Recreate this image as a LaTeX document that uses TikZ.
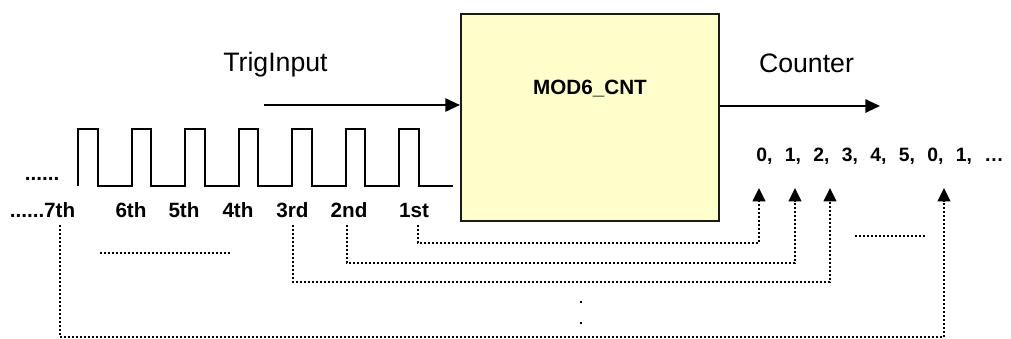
\documentclass[tikz,border=0pt]{standalone}
\usepackage{fontspec}
\setmainfont{Liberation Sans}
\usetikzlibrary{arrows.meta, positioning, calc}
\definecolor{boxfill}{HTML}{FFFFCC}
\definecolor{edge}{HTML}{1A1A1A}
\newcommand{\nth}[1]{\fontsize{15.5}{18}\selectfont\bfseries #1}
\newcommand{\gap}{\hspace{9.3pt}}

\begin{document}
\begin{tikzpicture}[
  x=0.75pt, y=-0.75pt,
  box/.style={draw=edge, line width=1.6pt, fill=boxfill,
              minimum width=193.5pt, minimum height=155pt, inner sep=0pt},
  arr/.style={-{Triangle[length=11pt, width=10pt]}, line width=1.5pt},
  dotarr/.style={-{Triangle[length=10pt, width=9.5pt]}, line width=1.5pt,
                 dash pattern=on 1.5pt off 1.5pt},
  dotline/.style={line width=1.5pt, dash pattern=on 1.5pt off 1.5pt},
  wave/.style={line width=1.5pt, line join=miter},
  lbl/.style={font=\fontsize{20}{24}\selectfont, inner sep=0pt, anchor=base},
  bl/.style={font=\nth{}, inner sep=0pt, anchor=base}
]
  \useasboundingbox (0,0) rectangle (1011,339);

  % counter block
  \node[box] (cnt) at (590,117.5) {};
  \node[bl] (cntname) at (590,94) {MOD6\_CNT};

  % input side
  \node[lbl] (trig) at (275.5,71) {TrigInput};
  \coordinate (trigin) at (264,105);
  \draw[arr] (trigin) -- (cnt.west |- trigin);

  % trigger pulses
  \draw[wave] (78,186) foreach \i in {0,...,6} {
      -- ++(0,-57) -- ++(19.5,0) -- ++(0,57) -- ++(34,0)};
  \node[bl] (more) at (42,180) {......};

  \node[bl] (p7) at (42.5,217) {......7th};
  \node[bl] (p6) at (131,217) {6th};
  \node[bl] (p5) at (184,217) {5th};
  \node[bl] (p4) at (238,217) {4th};
  \node[bl] (p3) at (292.5,217) {3rd};
  \node[bl] (p2) at (349,217) {2nd};
  \node[bl] (p1) at (414,217) {1st};

  % output side
  \node[lbl] (ctr) at (806.5,72.5) {Counter};
  \coordinate (ctrout) at (880,106);
  \draw[arr] (cnt.east |- ctrout) -- (ctrout);

  \node[bl, font=\fontsize{14.5}{17}\selectfont\bfseries, anchor=base west] (seq) at (756,161.5)
    {0,\gap1,\gap2,\gap3,\gap4,\gap5,\gap0,\gap1,\gap…};

  % which pulse gives which count
  \coordinate (k1) at (418,225);
  \coordinate (k2) at (347,225);
  \coordinate (k3) at (293,225);
  \coordinate (k7) at (60,225);
  \coordinate (v0) at (759,188);
  \coordinate (v1) at (795,188);
  \coordinate (v2) at (830,188);
  \coordinate (v6) at (944,188);

  \foreach \from/\to/\y in {k1/v0/243, k2/v1/263, k3/v2/282, k7/v6/337}
    \draw[dotarr] (\from) |- (\to |- 0,\y) -- (\to);

  \draw[dotline] (100,253) -- (230,253);
  \draw[dotline] (855,236) -- (927,236);
  \fill (580,301) rectangle ++(2,2);
  \fill (580,322) rectangle ++(2,2);
\end{tikzpicture}
\end{document}
